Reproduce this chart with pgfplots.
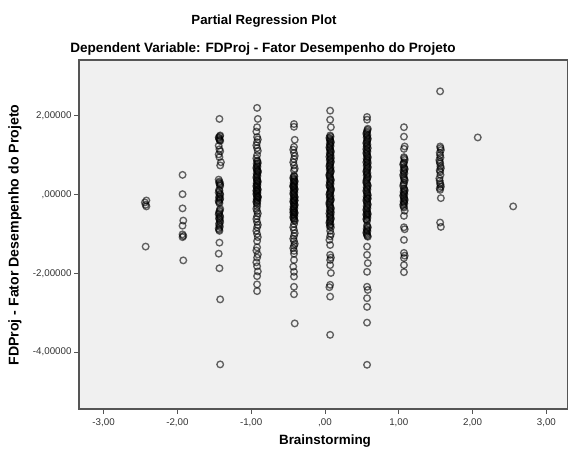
\documentclass[border=0pt]{standalone}
\usepackage{pgfplots}
\pgfplotsset{compat=1.18}
\usepackage{fontspec}
\setmainfont{Liberation Sans}

\definecolor{plotbg}{HTML}{F0F0F0}
\definecolor{axisgray}{HTML}{555555}
\definecolor{ticktext}{HTML}{333333}

% Partial regression residuals: Brainstorming (x) against FDProj (y)
\pgfplotstableread{
x y
-2.42 -0.15
-2.44 -0.20
-2.43 -0.26
-2.42 -0.30
-2.43 -1.32
-1.93 0.50
-1.93 0.01
-1.93 -0.35
-1.92 -0.66
-1.93 -0.79
-1.93 -1.01
-1.92 -1.05
-1.93 -1.08
-1.92 -1.67
-1.43 1.92
-1.42 1.50
-1.44 1.45
-1.43 1.40
-1.42 1.36
-1.44 1.24
-1.43 1.15
-1.42 1.10
-1.44 1.02
-1.43 0.95
-1.41 0.82
-1.42 0.74
-1.44 0.38
-1.43 0.33
-1.42 0.28
-1.42 0.22
-1.43 0.10
-1.44 0.05
-1.42 0.00
-1.43 -0.05
-1.42 -0.10
-1.44 -0.16
-1.43 -0.22
-1.42 -0.36
-1.43 -0.43
-1.44 -0.50
-1.42 -0.57
-1.43 -0.62
-1.42 -0.70
-1.43 -0.78
-1.44 -0.86
-1.43 -0.92
-1.43 -1.22
-1.44 -1.50
-1.43 -1.87
-1.42 -2.66
-1.42 -4.31
-0.92 2.20
-0.91 1.92
-0.92 1.71
-0.93 1.60
-0.92 1.46
-0.91 1.40
-0.92 1.33
-0.93 1.25
-0.92 1.18
-0.91 1.11
-0.92 1.00
-0.93 0.92
-0.92 0.86
-0.91 0.80
-0.92 0.74
-0.93 0.68
-0.92 0.62
-0.91 0.56
-0.92 0.50
-0.93 0.44
-0.92 0.38
-0.91 0.32
-0.92 0.27
-0.93 0.22
-0.92 0.17
-0.91 0.12
-0.92 0.07
-0.93 0.02
-0.92 -0.03
-0.91 -0.08
-0.92 -0.13
-0.93 -0.18
-0.92 -0.24
-0.91 0.60
-0.92 0.35
-0.93 0.10
-0.91 -0.05
-0.92 -0.30
-0.93 -0.36
-0.92 -0.42
-0.91 -0.48
-0.92 -0.55
-0.93 -0.62
-0.92 -0.70
-0.91 -0.77
-0.92 -0.83
-0.93 -0.92
-0.92 -1.00
-0.91 -1.08
-0.92 -1.18
-0.92 -1.34
-0.93 -1.42
-0.91 -1.52
-0.92 -1.60
-0.93 -1.72
-0.92 -1.82
-0.91 -1.95
-0.92 -2.07
-0.92 -2.28
-0.92 -2.45
-0.42 1.79
-0.42 1.72
-0.41 1.39
-0.42 1.21
-0.43 1.14
-0.42 1.06
-0.41 0.98
-0.42 0.90
-0.43 0.82
-0.42 0.74
-0.41 0.66
-0.42 0.61
-0.42 0.48
-0.43 0.43
-0.42 0.38
-0.41 0.33
-0.42 0.28
-0.43 0.23
-0.42 0.18
-0.41 0.13
-0.42 0.08
-0.43 0.03
-0.42 -0.02
-0.41 -0.07
-0.42 -0.12
-0.43 -0.17
-0.42 -0.22
-0.41 -0.27
-0.42 -0.32
-0.43 -0.37
-0.42 -0.42
-0.41 -0.47
-0.42 -0.52
-0.43 -0.57
-0.42 -0.62
-0.41 -0.67
-0.43 0.20
-0.41 -0.15
-0.43 -0.45
-0.42 -0.75
-0.43 -0.83
-0.42 -0.90
-0.41 -0.98
-0.42 -1.05
-0.43 -1.12
-0.42 -1.18
-0.41 -1.25
-0.42 -1.30
-0.43 -1.36
-0.42 -1.43
-0.42 -1.50
-0.42 -1.66
-0.43 -1.83
-0.42 -1.96
-0.42 -2.08
-0.42 -2.34
-0.42 -2.53
-0.41 -3.27
0.07 2.13
0.07 1.90
0.08 1.71
0.07 1.50
0.06 1.44
0.07 1.38
0.08 1.32
0.07 1.26
0.06 1.20
0.07 1.14
0.08 1.08
0.07 1.02
0.06 0.96
0.07 0.90
0.08 0.84
0.07 0.78
0.06 0.72
0.07 0.66
0.08 0.60
0.07 0.54
0.06 0.48
0.07 0.42
0.08 0.36
0.07 0.30
0.06 0.24
0.07 0.18
0.08 0.12
0.07 0.06
0.06 0.00
0.07 -0.06
0.08 -0.12
0.07 -0.18
0.06 -0.24
0.07 -0.30
0.08 -0.36
0.07 -0.42
0.06 -0.48
0.07 -0.54
0.08 -0.60
0.07 -0.66
0.06 -0.72
0.07 -0.78
0.08 -0.83
0.08 0.93
0.06 0.51
0.08 0.15
0.06 -0.20
0.08 -0.45
0.07 -0.92
0.08 -1.00
0.07 -1.06
0.06 -1.15
0.07 -1.28
0.07 -1.53
0.08 -1.60
0.07 -1.66
0.07 -1.79
0.08 -1.99
0.07 -2.29
0.06 -2.35
0.07 -2.59
0.07 -3.56
0.57 1.97
0.57 1.90
0.58 1.67
0.57 1.60
0.56 1.54
0.57 1.48
0.58 1.42
0.57 1.36
0.56 1.30
0.57 1.24
0.58 1.18
0.57 1.12
0.56 1.06
0.57 1.00
0.58 0.94
0.57 0.88
0.56 0.82
0.57 0.76
0.58 0.70
0.57 0.64
0.56 0.58
0.57 0.52
0.58 0.46
0.57 0.40
0.56 0.34
0.57 0.28
0.58 0.22
0.57 0.16
0.56 0.10
0.57 0.04
0.58 -0.02
0.57 -0.08
0.56 -0.14
0.57 -0.20
0.58 -0.26
0.57 -0.32
0.56 -0.38
0.57 -0.44
0.58 -0.50
0.57 -0.56
0.56 -0.62
0.57 -0.67
0.56 1.15
0.58 0.80
0.56 0.30
0.58 -0.10
0.56 -0.50
0.57 -0.78
0.58 -0.84
0.57 -0.90
0.56 -0.96
0.57 -1.02
0.58 -1.07
0.57 -1.32
0.57 -1.53
0.58 -1.74
0.57 -1.96
0.57 -2.34
0.58 -2.42
0.57 -2.63
0.57 -2.85
0.57 -3.25
0.57 -4.32
1.07 1.71
1.07 1.47
1.08 1.22
1.07 1.16
1.07 0.95
1.08 0.88
1.07 0.82
1.06 0.76
1.07 0.70
1.08 0.64
1.07 0.58
1.06 0.50
1.07 0.42
1.08 0.36
1.07 0.30
1.06 0.22
1.07 0.16
1.08 0.10
1.07 0.04
1.06 -0.02
1.07 -0.08
1.08 -0.14
1.07 -0.20
1.06 -0.26
1.07 -0.33
1.08 -0.41
1.07 -0.54
1.07 -0.83
1.08 -0.88
1.07 -1.15
1.07 -1.48
1.08 -1.55
1.07 -1.61
1.07 -1.79
1.07 -1.97
1.56 2.62
1.56 1.22
1.57 1.13
1.56 1.00
1.55 0.88
1.56 0.79
1.57 0.67
1.56 0.58
1.55 0.41
1.56 0.29
1.57 0.20
1.56 0.12
1.57 -0.09
1.56 -0.71
1.57 -0.82
2.07 1.45
2.55 -0.30
}\residuals

% Further cases inside the crowded stretches of each column
\pgfplotstableread{
x y
-1.425 1.48
-1.435 1.43
-1.425 1.38
-1.435 0.30
-1.425 0.25
-1.435 0.12
-1.425 0.02
-1.435 -0.08
-1.425 -0.13
-1.435 -0.19
-1.425 -0.40
-1.435 -0.47
-1.425 -0.54
-1.435 -0.60
-1.425 -0.66
-1.435 -0.74
-1.425 -0.82
-1.435 -0.89
-0.915 0.84
-0.925 0.78
-0.915 0.71
-0.925 0.65
-0.915 0.59
-0.925 0.53
-0.915 0.47
-0.925 0.41
-0.915 0.35
-0.925 0.29
-0.915 0.24
-0.925 0.19
-0.915 0.14
-0.925 0.09
-0.915 0.04
-0.925 -0.01
-0.915 -0.06
-0.925 -0.11
-0.915 -0.16
-0.925 -0.21
-0.415 0.46
-0.425 0.40
-0.415 0.35
-0.425 0.30
-0.415 0.25
-0.425 0.20
-0.415 0.15
-0.425 0.10
-0.415 0.05
-0.425 0.00
-0.415 -0.05
-0.425 -0.10
-0.415 -0.15
-0.425 -0.20
-0.415 -0.25
-0.425 -0.30
-0.415 -0.35
-0.425 -0.40
-0.415 -0.45
-0.425 -0.50
-0.415 -0.55
-0.425 -0.60
-0.415 -0.65
0.075 1.47
0.065 1.41
0.075 1.35
0.065 1.29
0.075 1.23
0.065 1.17
0.075 1.11
0.065 1.05
0.075 0.99
0.065 0.87
0.075 0.81
0.065 0.75
0.075 0.69
0.065 0.63
0.075 0.57
0.065 0.45
0.075 0.39
0.065 0.33
0.075 0.27
0.065 0.21
0.075 0.09
0.065 0.03
0.075 -0.03
0.065 -0.09
0.075 -0.15
0.065 -0.27
0.075 -0.33
0.065 -0.39
0.075 -0.51
0.065 -0.57
0.075 -0.63
0.065 -0.69
0.075 -0.75
0.065 -0.81
0.575 1.64
0.565 1.57
0.575 1.51
0.565 1.45
0.575 1.39
0.565 1.33
0.575 1.27
0.565 1.21
0.575 1.09
0.565 1.03
0.575 0.97
0.565 0.91
0.575 0.85
0.565 0.73
0.575 0.67
0.565 0.61
0.575 0.55
0.565 0.49
0.575 0.43
0.565 0.37
0.575 0.25
0.565 0.19
0.575 0.13
0.565 0.07
0.575 0.01
0.565 -0.05
0.575 -0.11
0.565 -0.17
0.575 -0.23
0.565 -0.29
0.575 -0.35
0.565 -0.41
0.575 -0.47
0.565 -0.53
0.575 -0.59
0.565 -0.64
0.575 -0.81
0.565 -0.87
0.575 -0.93
0.565 -0.99
0.575 -1.05
1.075 0.92
1.065 0.79
1.075 0.67
1.065 0.61
1.075 0.54
1.065 0.46
1.075 0.39
1.065 0.26
1.075 0.13
1.065 0.07
1.075 0.01
1.065 -0.05
1.075 -0.11
1.065 -0.17
1.075 -0.23
1.065 -0.30
1.565 1.18
1.555 1.06
1.565 0.94
1.555 0.83
1.565 0.72
1.555 0.62
1.565 0.50
1.555 0.35
1.565 0.25
1.555 0.16
}\crowded

\begin{document}
\begin{tikzpicture}[x=1bp,y=1bp]
\useasboundingbox (0,0) rectangle (568,452);
\begin{axis}[
  at={(79bp,43bp)}, anchor=south west,
  scale only axis, width=489bp, height=349bp,
  xmin=-3.333, xmax=3.293, ymin=-5.442, ymax=3.416,
  axis background/.style={fill=plotbg},
  axis line style={draw=axisgray, line width=1.2bp},
  xtick={-3,-2,-1,0,1,2,3},
  xticklabels={{-3,00},{-2,00},{-1,00},{,00},{1,00},{2,00},{3,00}},
  ytick={-4,-2,0,2},
  yticklabels={{-4,00000},{-2,00000},{,00000},{2,00000}},
  tick align=outside, tick pos=left,
  major tick length=5bp,
  tick style={draw=axisgray, line width=0.8bp},
  ticklabel style={font=\fontsize{9.8}{11}\selectfont, text=ticktext},
  xticklabel style={yshift=-1bp},
  yticklabel style={xshift=1bp},
]
\addplot[only marks, mark=o, mark size=3.3bp,
  mark options={draw=black, draw opacity=0.6, line width=1.35bp}]
  table[x=x, y=y] {\residuals};
\addplot[only marks, mark=o, mark size=3.3bp,
  mark options={draw=black, draw opacity=0.6, line width=1.35bp}]
  table[x=x, y=y] {\crowded};
\end{axis}
\node[font=\bfseries\fontsize{13.3}{15}\selectfont] at (264,431.3) {Partial Regression Plot};
\node[font=\bfseries\fontsize{13.6}{15}\selectfont] at (263,402.7) {Dependent Variable: FDProj - Fator Desempenho do Projeto};
\node[font=\bfseries\fontsize{14.2}{16}\selectfont, rotate=90] at (15,217) {FDProj - Fator Desempenho do Projeto};
\node[font=\bfseries\fontsize{13.5}{15}\selectfont] at (325,11) {Brainstorming};
\end{tikzpicture}
\end{document}
